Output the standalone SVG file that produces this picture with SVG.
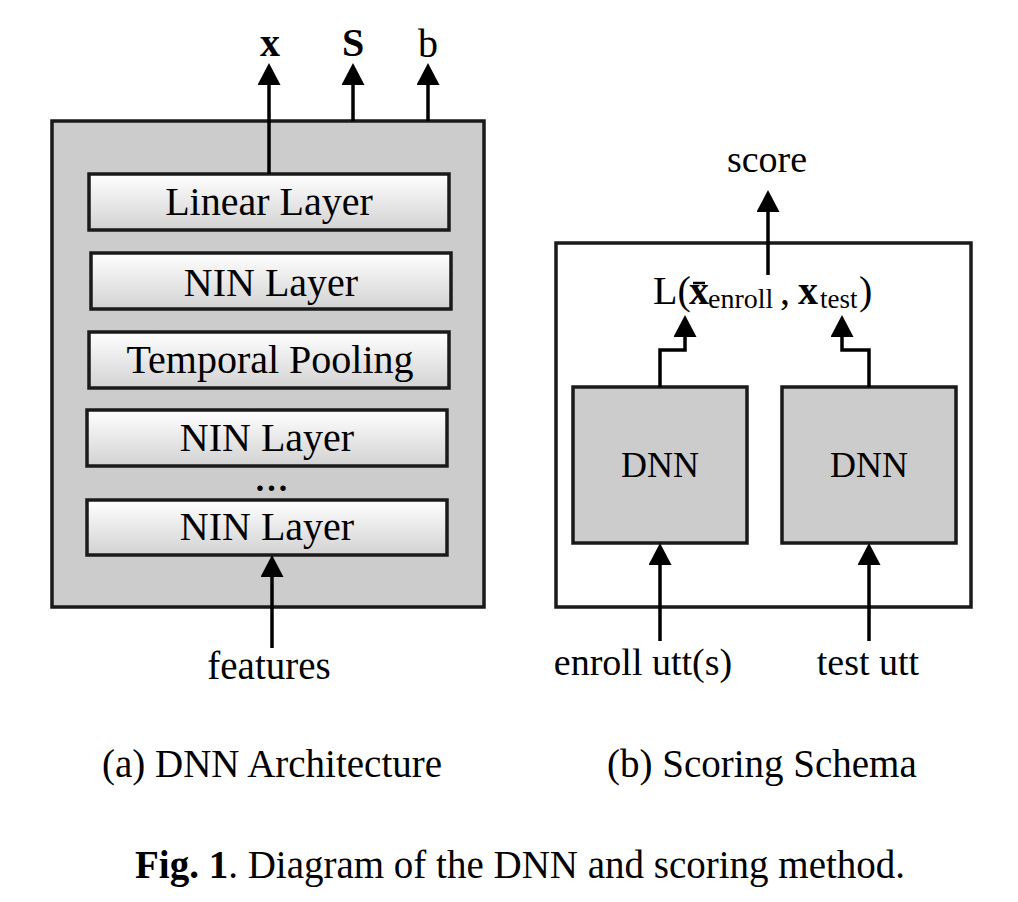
<svg xmlns="http://www.w3.org/2000/svg" width="1018" height="902" viewBox="0 0 1018 902">
<style>
.t{font-family:"Liberation Serif","Times New Roman",serif;fill:#000}
.m{text-anchor:middle}
.box{stroke:#1a1a1a;stroke-width:3.5}
.layer{fill:url(#lg);stroke:#1a1a1a;stroke-width:3.5}
.ar{fill:none;stroke:#000;stroke-width:3.5;marker-end:url(#ah)}
</style>
<defs>
<linearGradient id="lg" x1="0" y1="0" x2="0" y2="1">
<stop offset="0" stop-color="#ffffff"/>
<stop offset="1" stop-color="#d2d2d2"/>
</linearGradient>
<marker id="ah" viewBox="0 0 22 23" refX="12" refY="11.5" markerWidth="22" markerHeight="23" markerUnits="userSpaceOnUse" orient="auto">
<path d="M0,0 L22,11.5 L0,23 z" fill="#000"/>
</marker>
</defs>
<rect width="1018" height="902" fill="#fff"/>

<g id="dnn-arch">
<rect class="box" x="52" y="121" width="432" height="486" fill="#cccccc"/>
</g>
<g id="linear-layer">
<rect class="layer" x="89" y="174" width="360" height="56"/>
<text class="t m" x="269" y="215" font-size="40">Linear Layer</text>
</g>
<g id="nin-layer-1">
<rect class="layer" x="91" y="253" width="360" height="56"/>
<text class="t m" x="271" y="296" font-size="40">NIN Layer</text>
</g>
<g id="temporal-pooling">
<rect class="layer" x="89" y="332" width="360" height="56"/>
<text class="t m" x="270" y="373" font-size="40">Temporal Pooling</text>
</g>
<g id="nin-layer-2">
<rect class="layer" x="87" y="410" width="360" height="56"/>
<text class="t m" x="267" y="451" font-size="40">NIN Layer</text>
</g>
<text class="t m" x="273" y="491" font-size="34" font-weight="bold" letter-spacing="3">...</text>
<g id="nin-layer-3">
<rect class="layer" x="87" y="500" width="360" height="55"/>
<text class="t m" x="267" y="540" font-size="40">NIN Layer</text>
</g>

<g id="scoring">
<rect class="box" x="556" y="243" width="415" height="364" fill="#ffffff"/>
</g>
<g id="dnn-enroll">
<rect class="box" x="573" y="387" width="174" height="156" fill="#cccccc"/>
<text class="t m" x="660" y="477" font-size="36">DNN</text>
</g>
<g id="dnn-test">
<rect class="box" x="782" y="387" width="174" height="156" fill="#cccccc"/>
<text class="t m" x="869" y="477" font-size="36">DNN</text>
</g>
<g id="loss">
<text class="t" x="653" y="304" font-size="40">L(</text>
<text class="t" x="689" y="304" font-size="40" font-weight="bold">x</text>
<line x1="693" y1="283" x2="705" y2="283" stroke="#000" stroke-width="2.5"/>
<text class="t" x="708" y="308" font-size="28">enroll</text>
<text class="t" x="780" y="304" font-size="40">,</text>
<text class="t" x="798" y="304" font-size="40" font-weight="bold">x</text>
<text class="t" x="820" y="308" font-size="27">test</text>
<text class="t" x="859" y="304" font-size="40">)</text>
</g>

<g id="connectors">
<path class="ar" d="M269,174 V73"/>
<path class="ar" d="M353,121 V73"/>
<path class="ar" d="M428,121 V73"/>
<path class="ar" d="M272,648 V565"/>
<path class="ar" d="M768,275 V200"/>
<path class="ar" d="M660,387 V350 H685 V325"/>
<path class="ar" d="M869,387 V350 H842 V325"/>
<path class="ar" d="M660,641 V553"/>
<path class="ar" d="M869,641 V553"/>
</g>

<g id="labels">
<text class="t m" x="270" y="56" font-size="40" font-weight="bold">x</text>
<text class="t m" x="353" y="56" font-size="40" font-weight="bold">S</text>
<text class="t m" x="428" y="57" font-size="40">b</text>
<text class="t m" x="269" y="679" font-size="39">features</text>
<text class="t m" x="767" y="172" font-size="38">score</text>
<text class="t m" x="643" y="675" font-size="38">enroll utt(s)</text>
<text class="t m" x="868" y="675" font-size="38">test utt</text>
<text class="t" x="102" y="777" font-size="39">(a) DNN Architecture</text>
<text class="t" x="607" y="777" font-size="39">(b) Scoring Schema</text>
<text class="t" x="135" y="878" font-size="39"><tspan font-weight="bold">Fig. 1</tspan>. Diagram of the DNN and scoring method.</text>
</g>
</svg>
